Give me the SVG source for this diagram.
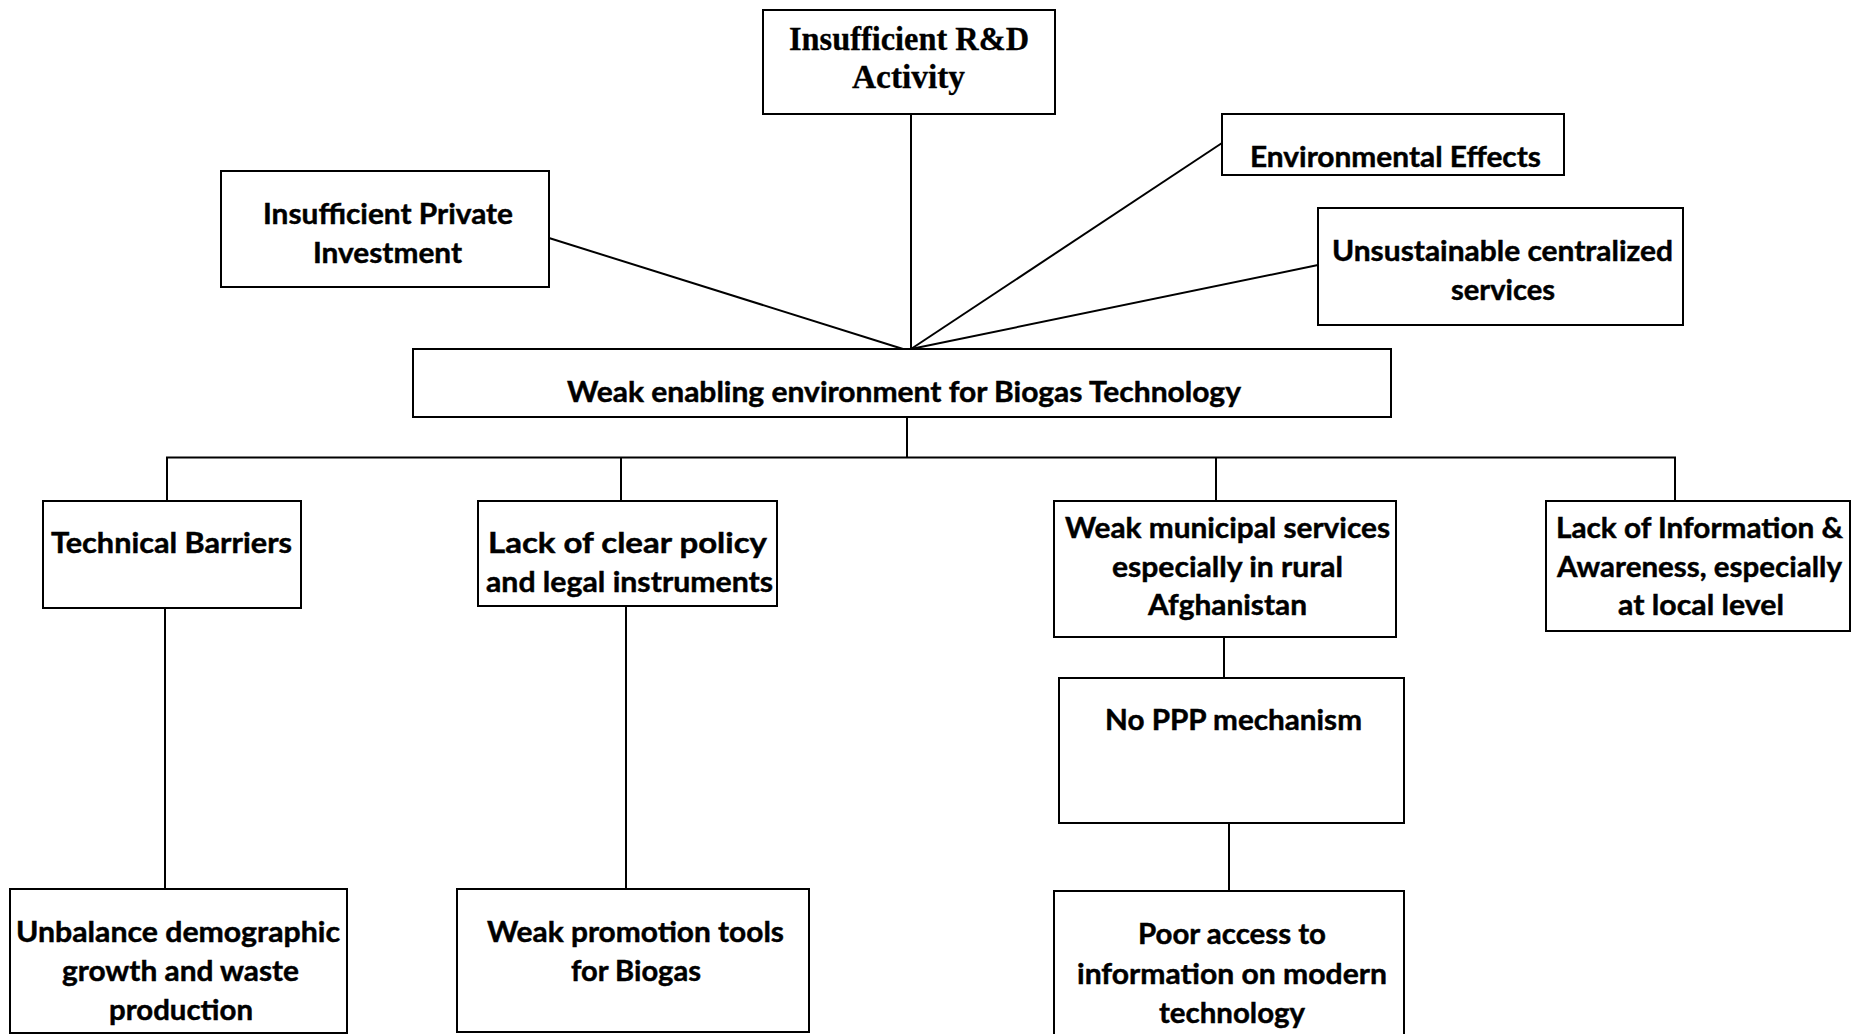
<svg xmlns="http://www.w3.org/2000/svg" width="1867" height="1034" viewBox="0 0 1867 1034">
  <style>
    .box { fill: #fff; stroke: #000; stroke-width: 2; }
    .ln { fill: none; stroke: #000; stroke-width: 2; }
    .t { font-family: Lato, "Liberation Sans", sans-serif; font-weight: 700; font-size: 29px; fill: #000; stroke: #000; stroke-width: 0.45px; }
    .s { font-family: "Liberation Serif", serif; font-weight: 700; font-size: 33px; fill: #000; stroke: #000; stroke-width: 0.3px; }
  </style>
  <rect width="1867" height="1034" fill="#fff"/>

  <!-- connectors -->
  <g id="connectors">
    <line class="ln" x1="549" y1="238" x2="903" y2="349"/>
    <line class="ln" x1="911" y1="114" x2="911" y2="349"/>
    <line class="ln" x1="1222" y1="143" x2="911" y2="349"/>
    <line class="ln" x1="1318" y1="265" x2="911" y2="349"/>
    <line class="ln" x1="907" y1="417" x2="907" y2="457.5"/>
    <line class="ln" x1="166" y1="457.5" x2="1676" y2="457.5"/>
    <line class="ln" x1="167" y1="457.5" x2="167" y2="501"/>
    <line class="ln" x1="621" y1="457.5" x2="621" y2="501"/>
    <line class="ln" x1="1216" y1="457.5" x2="1216" y2="501"/>
    <line class="ln" x1="1675" y1="457.5" x2="1675" y2="501"/>
    <line class="ln" x1="165" y1="608" x2="165" y2="889"/>
    <line class="ln" x1="626" y1="606" x2="626" y2="889"/>
    <line class="ln" x1="1224" y1="637" x2="1224" y2="678"/>
    <line class="ln" x1="1229" y1="823" x2="1229" y2="891"/>
  </g>

  <g id="rd-activity">
    <rect class="box" x="763" y="10" width="292" height="104"/>
    <text class="s" x="789" y="50" textLength="240" lengthAdjust="spacingAndGlyphs">Insufficient R&amp;D</text>
    <text class="s" x="852" y="88" textLength="113" lengthAdjust="spacingAndGlyphs">Activity</text>
  </g>

  <g id="private-investment">
    <rect class="box" x="221" y="171" width="328" height="116"/>
    <text class="t" x="263" y="224" textLength="250" lengthAdjust="spacingAndGlyphs">Insufficient Private</text>
    <text class="t" x="313" y="263" textLength="149" lengthAdjust="spacingAndGlyphs">Investment</text>
  </g>

  <g id="environmental-effects">
    <rect class="box" x="1222" y="114" width="342" height="61"/>
    <text class="t" x="1250" y="167" textLength="291" lengthAdjust="spacingAndGlyphs">Environmental Effects</text>
  </g>

  <g id="centralized-services">
    <rect class="box" x="1318" y="208" width="365" height="117"/>
    <text class="t" x="1332" y="261" textLength="341" lengthAdjust="spacingAndGlyphs">Unsustainable centralized</text>
    <text class="t" x="1451" y="300" textLength="104" lengthAdjust="spacingAndGlyphs">services</text>
  </g>

  <g id="weak-environment">
    <rect class="box" x="413" y="349" width="978" height="68"/>
    <text class="t" x="567" y="402" textLength="674" lengthAdjust="spacingAndGlyphs">Weak enabling environment for Biogas Technology</text>
  </g>

  <g id="technical-barriers">
    <rect class="box" x="43" y="501" width="258" height="107"/>
    <text class="t" x="51" y="553" textLength="241" lengthAdjust="spacingAndGlyphs">Technical Barriers</text>
  </g>

  <g id="policy">
    <rect class="box" x="478" y="501" width="299" height="105"/>
    <text class="t" x="488" y="553" textLength="279" lengthAdjust="spacingAndGlyphs">Lack of clear policy</text>
    <text class="t" x="486" y="592" textLength="287" lengthAdjust="spacingAndGlyphs">and legal instruments</text>
  </g>

  <g id="municipal-services">
    <rect class="box" x="1054" y="501" width="342" height="136"/>
    <text class="t" x="1065" y="538" textLength="325" lengthAdjust="spacingAndGlyphs">Weak municipal services</text>
    <text class="t" x="1112" y="577" textLength="231" lengthAdjust="spacingAndGlyphs">especially in rural</text>
    <text class="t" x="1148" y="615" textLength="159" lengthAdjust="spacingAndGlyphs">Afghanistan</text>
  </g>

  <g id="information-awareness">
    <rect class="box" x="1546" y="501" width="304" height="130"/>
    <text class="t" x="1556" y="538" textLength="287" lengthAdjust="spacingAndGlyphs">Lack of Information &amp;</text>
    <text class="t" x="1557" y="577" textLength="285" lengthAdjust="spacingAndGlyphs">Awareness, especially</text>
    <text class="t" x="1618" y="615" textLength="166" lengthAdjust="spacingAndGlyphs">at local level</text>
  </g>

  <g id="ppp-mechanism">
    <rect class="box" x="1059" y="678" width="345" height="145"/>
    <text class="t" x="1105" y="730" textLength="257" lengthAdjust="spacingAndGlyphs">No PPP mechanism</text>
  </g>

  <g id="demographic-growth">
    <rect class="box" x="10" y="889" width="337" height="144"/>
    <text class="t" x="16" y="942" textLength="324" lengthAdjust="spacingAndGlyphs">Unbalance demographic</text>
    <text class="t" x="62" y="981" textLength="237" lengthAdjust="spacingAndGlyphs">growth and waste</text>
    <text class="t" x="109" y="1020" textLength="144" lengthAdjust="spacingAndGlyphs">production</text>
  </g>

  <g id="promotion-tools">
    <rect class="box" x="457" y="889" width="352" height="143"/>
    <text class="t" x="487" y="942" textLength="297" lengthAdjust="spacingAndGlyphs">Weak promotion tools</text>
    <text class="t" x="571" y="981" textLength="130" lengthAdjust="spacingAndGlyphs">for Biogas</text>
  </g>

  <g id="information-access">
    <rect class="box" x="1054" y="891" width="350" height="150"/>
    <text class="t" x="1138" y="944" textLength="188" lengthAdjust="spacingAndGlyphs">Poor access to</text>
    <text class="t" x="1077" y="984" textLength="310" lengthAdjust="spacingAndGlyphs">information on modern</text>
    <text class="t" x="1159" y="1023" textLength="146" lengthAdjust="spacingAndGlyphs">technology</text>
  </g>
</svg>
